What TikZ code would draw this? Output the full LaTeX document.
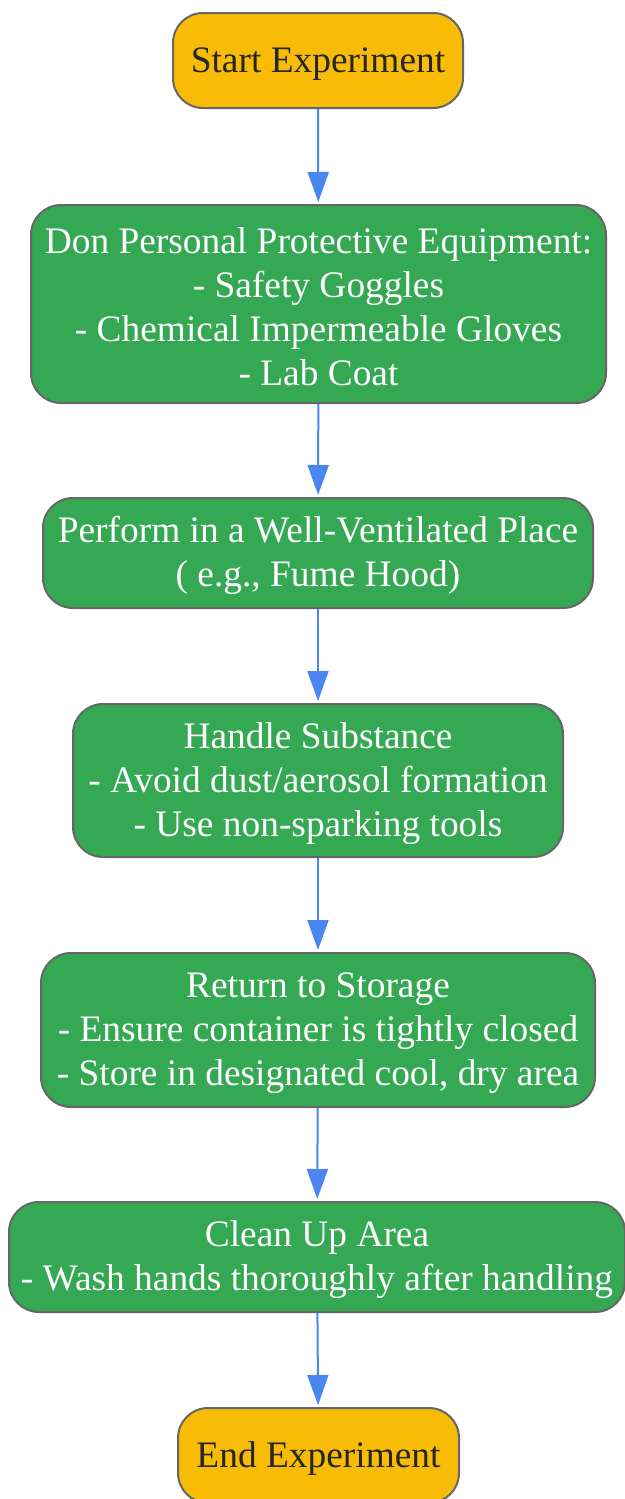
\documentclass[tikz,border=0pt]{standalone}
\usepackage{fontspec}
\setmainfont{Liberation Serif}
\usetikzlibrary{arrows.meta}
\definecolor{startend}{HTML}{F9BC06}
\definecolor{stepgreen}{HTML}{34A853}
\definecolor{edgegray}{HTML}{666666}
\definecolor{flowblue}{HTML}{4A86F0}
% taller first line, pushes the text a little down in its box
\newcommand{\topstrut}{\rule{0pt}{16pt}}
\begin{document}
\begin{tikzpicture}[x=0.5pt,y=-0.5pt,
    box/.style={draw=edgegray, line width=1pt, rounded corners=15pt, align=center,
      inner sep=0pt, font=\fontsize{18.7pt}{22pt}\selectfont},
    terminal/.style={box, fill=startend, text=black!85},
    stepbox/.style={box, fill=stepgreen, text=white},
    flow/.style={draw=flowblue, line width=1pt, -{Triangle[width=10.5pt,length=15pt]}, shorten >=1pt}]
  \useasboundingbox (0,0) rectangle (625,1499);
  % start and end
  \node[terminal, minimum width=145pt, minimum height=47.5pt] (start) at (318,60.5) {\topstrut Start Experiment};
  \node[stepbox, minimum width=287.5pt, minimum height=99pt] (ppe) at (318.5,304)
    {\topstrut Don Personal Protective Equipment:\\- Safety Goggles\\- Chemical Impermeable Gloves\\- Lab Coat};
  \node[stepbox, minimum width=275pt, minimum height=55pt] (vent) at (318,553)
    {\topstrut Perform in a Well-Ventilated Place\\( e.g., Fume Hood)};
  \node[stepbox, minimum width=245pt, minimum height=76.5pt] (handle) at (318,780.5)
    {\topstrut Handle Substance\\- Avoid dust/aerosol formation\\- Use non-sparking tools};
  \node[stepbox, minimum width=277pt, minimum height=77pt] (store) at (318,1030)
    {\topstrut Return to Storage\\- Ensure container is tightly closed\\- Store in designated cool, dry area};
  \node[stepbox, minimum width=308pt, minimum height=55pt] (clean) at (317,1257)
    {\topstrut Clean Up Area\\- Wash hands thoroughly after handling};
  \node[terminal, minimum width=140.5pt, minimum height=47.5pt] (end) at (318.5,1455.5) {\topstrut End Experiment};
  % arrows
  \draw[flow] (start) -- (ppe);
  \draw[flow] (ppe) -- (vent);
  \draw[flow] (vent) -- (handle);
  \draw[flow] (handle) -- (store);
  \draw[flow] (store) -- (clean);
  \draw[flow] (clean) -- (end);
\end{tikzpicture}
\end{document}
